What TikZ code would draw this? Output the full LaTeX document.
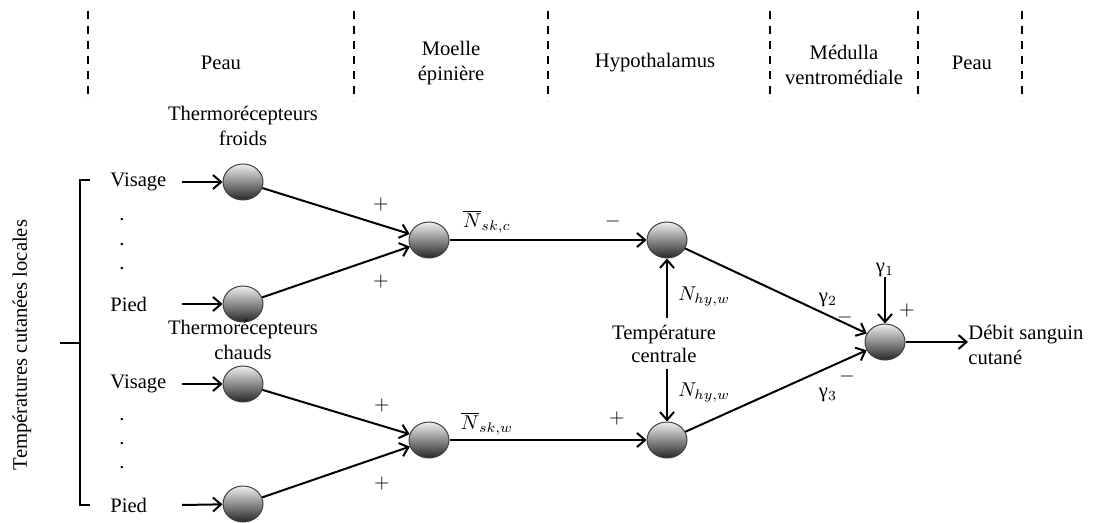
\documentclass[tikz,border=0pt]{standalone}
\usepackage{fontspec}
\setmainfont{Liberation Serif}
\usetikzlibrary{arrows.meta,shapes.geometric}
\begin{document}
\begin{tikzpicture}[x=0.5pt,y=-0.5pt,
  every node/.style={font=\fontsize{10.3}{12.5}\selectfont},
  neuron/.style={ellipse, minimum width=20pt, minimum height=18pt, inner sep=0pt,
    draw=black!75, line width=0.5pt, top color=gray!12, middle color=gray!55, bottom color=black!85},
  conn/.style={line width=1pt, -{Straight Barb[length=4pt,width=7pt,line width=1pt]}},
  plainline/.style={line width=1pt},
  sep/.style={line width=1pt, dash pattern=on 4pt off 3.5pt},
  lab/.style={inner sep=0pt},
  sign/.style={inner sep=0pt, font=\fontsize{10.3}{12.5}\selectfont}]
\useasboundingbox (0,0) rectangle (1101,523);

% header separators
\foreach \xx/\nm in {88/s1,354/s2,548/s3,770/s4,918/s5,1022/s6}{
  \coordinate (\nm t) at (\xx,11);
  \coordinate (\nm b) at (\xx,101);
  \draw[sep] (\nm t) -- (\nm b);
}
\node (h1) at (221,63) {Peau};
\node[align=center] (h2) at (451,63) {Moelle\\épinière};
\node (h3) at (655,63) {Hypothalamus};
\node[align=center] (h4) at (844,65) {Médulla\\ventromédiale};
\node (h5) at (972,63) {Peau};

% neurons
\node[neuron] (cv) at (243,182) {};
\node[neuron] (cp) at (243,304) {};
\node[neuron] (wv) at (243,384) {};
\node[neuron] (wp) at (243,504) {};
\node[neuron] (cs) at (429,240) {};
\node[neuron] (ws) at (429,440) {};
\node[neuron] (ch) at (667,240) {};
\node[neuron] (wh) at (667,440) {};
\node[neuron] (out) at (885,342) {};

% receptor labels
\node[align=center] (tf) at (243,126) {Thermorécepteurs\\froids};
\node[align=center] (tw) at (243,340) {Thermorécepteurs\\chauds};

% inputs
\node[lab, anchor=west] (lcv) at (110,182) {Visage};
\node[lab, anchor=west] (lcp) at (110,304) {Pied};
\node[lab, anchor=west] (lwv) at (110,384) {Visage};
\node[lab, anchor=west] (lwp) at (110,505) {Pied};
\foreach \yy/\nm in {220/d1,245/d2,269/d3,420/d4,444/d5,468/d6}{
  \node[lab] (\nm) at (122,\yy) {.};
}
\draw[conn] (lcv.east -| 182,0) -- (cv);
\draw[conn] (lcp.east -| 182,0) -- (cp);
\draw[conn] (lwv.east -| 182,0) -- (wv);
\draw[conn] (lwp.east -| 182,0) -- (wp);

% bracket
\coordinate (bt) at (90,180);
\coordinate (bb) at (90,505);
\coordinate (bm) at (60,343);
\draw[plainline] (bt) -- (80,180) -- (80,505) -- (bb);
\draw[plainline] (bm) -- (80,343);
\node[rotate=90] (tcl) at (22,345) {Températures cutanées locales};

% to spinal sums
\draw[conn] (cv) -- (cs);
\draw[conn] (cp) -- (cs);
\draw[conn] (wv) -- (ws);
\draw[conn] (wp) -- (ws);
\node[sign] (p1) at (381,205) {$+$};
\node[sign] (p2) at (381,281) {$+$};
\node[sign] (p3) at (382,405) {$+$};
\node[sign] (p4) at (382,483) {$+$};

% to hypothalamus
\draw[conn] (cs) -- (ch);
\draw[conn] (ws) -- (wh);
\node[lab] (nc) at (487,222) {$\overline{N}_{sk,c}$};
\node[lab] (nw) at (487,424) {$\overline{N}_{sk,w}$};
\node[sign] (m1) at (613,222) {$-$};
\node[sign] (p5) at (617,418) {$+$};

% central temperature
\node[align=center, inner sep=0pt, font=\fontsize{10.3}{11.5}\selectfont] (tc) at (664,344) {Température\\centrale};
\draw[conn] (ch |- 0,318) -- (ch);
\draw[conn] (wh |- 0,369) -- (wh);
\node[lab, anchor=west] (nh1) at (678,297) {$N_{hy,w}$};
\node[lab, anchor=west] (nh2) at (678,393) {$N_{hy,w}$};

% output stage
\draw[conn] (ch) -- (out);
\draw[conn] (wh) -- (out);
\node[lab] (g1) at (885,270) {γ$_1$};
\draw[conn] (g1.south) -- (out);
\node[sign] (p6) at (907,310) {$+$};
\node[lab] (g2) at (828,300) {γ$_2$};
\node[sign] (m2) at (845,317) {$-$};
\node[lab] (g3) at (828,395) {γ$_3$};
\node[sign] (m3) at (847,376) {$-$};
\node[lab, anchor=west, align=left] (deb) at (968,345) {Débit sanguin\\cutané};
\draw[conn] (out) -- (deb.west |- out);
\end{tikzpicture}
\end{document}
